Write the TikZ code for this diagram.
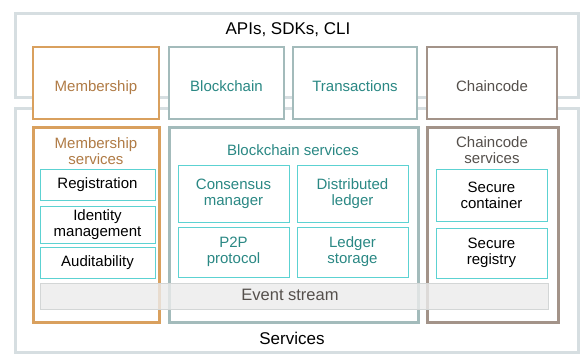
\documentclass[tikz,border=0pt]{standalone}
\usepackage{fontspec}
\setmainfont{Liberation Sans}
\usetikzlibrary{positioning}
\definecolor{framec}{HTML}{D6DEE1}
\definecolor{memc}{HTML}{D9A05E}
\definecolor{memtext}{HTML}{B07B45}
\definecolor{bcc}{HTML}{A3BBBB}
\definecolor{bctext}{HTML}{2A8884}
\definecolor{ccc}{HTML}{A39389}
\definecolor{cctext}{HTML}{55504C}
\definecolor{innerc}{HTML}{5CD2D2}
\definecolor{evc}{HTML}{D3D6D6}

\begin{document}
\begin{tikzpicture}[x=1pt,y=-1pt,
  every node/.style={inner sep=0pt,outer sep=0pt,align=center},
  frame/.style={draw=framec,line width=3pt,fill=white},
  topbox/.style={fill=white,line width=2pt,text height=16pt,text depth=0pt,font=\fontsize{15}{16}\selectfont},
  servbox/.style={fill=white,line width=3pt},
  inbox/.style={draw=innerc,line width=1pt,fill=white,font=\fontsize{15}{16}\selectfont},
  servtext/.style={font=\fontsize{15}{16}\selectfont},
  bigtext/.style={font=\fontsize{17}{19}\selectfont}]
\useasboundingbox (0,0) rectangle (582,354);

% outer layers
\node[frame,minimum width=563pt,minimum height=84pt] (apis) at (296.5,55) {};
\node[frame,minimum width=563pt,minimum height=244pt] (services) at (296.5,230) {};
\node[bigtext] (apistext) at (288,30) {APIs, SDKs, CLI};
\node[bigtext] (servtitle) at (292,338) {Services};

% top row
\node[topbox,draw=memc,text=memtext,minimum width=126pt,minimum height=72pt] (membership) at (96,83) {Membership};
\node[topbox,draw=bcc,text=bctext,minimum width=115pt,minimum height=72pt] (blockchain) at (226.5,83) {Blockchain};
\node[topbox,draw=bcc,text=bctext,minimum width=124pt,minimum height=72pt] (transactions) at (355,83) {Transactions};
\node[topbox,draw=ccc,text=cctext,minimum width=130pt,minimum height=72pt] (chaincode) at (492,83) {Chaincode};

% service groups
\node[servbox,draw=memc,minimum width=126pt,minimum height=195pt] (memserv) at (96,224.5) {};
\node[servbox,draw=bcc,minimum width=249pt,minimum height=195pt] (bcserv) at (293.5,224.5) {};
\node[servbox,draw=ccc,minimum width=131pt,minimum height=195pt] (ccserv) at (492.5,224.5) {};
\node[servtext,text=memtext] (memservtext) at (96,151) {Membership\\services};
\node[servtext,text=bctext] (bcservtext) at (293,150) {Blockchain services};
\node[servtext,text=cctext] (ccservtext) at (492,150) {Chaincode\\services};

% membership services
\node[inbox,minimum width=115pt,minimum height=31pt] (registration) at (97.5,184.5) {Registration};
\node[inbox,minimum width=115pt,minimum height=37pt] (identity) at (97.5,224.5) {Identity\\management};
\node[inbox,minimum width=115pt,minimum height=31pt] (audit) at (97.5,262.5) {Auditability};

% blockchain services
\node[inbox,text=bctext,minimum width=111pt,minimum height=57pt] (consensus) at (233.5,193.5) {Consensus\\manager};
\node[inbox,text=bctext,minimum width=111pt,minimum height=50pt] (p2p) at (233.5,252) {P2P\\protocol};
\node[inbox,text=bctext,minimum width=111pt,minimum height=57pt] (distributed) at (352.5,193.5) {Distributed\\ledger};
\node[inbox,text=bctext,minimum width=111pt,minimum height=50pt] (storage) at (352.5,252) {Ledger\\storage};

% chaincode services
\node[inbox,minimum width=111pt,minimum height=52pt] (container) at (491.5,195) {Secure\\container};
\node[inbox,minimum width=111pt,minimum height=50pt] (registry) at (491.5,253) {Secure\\registry};

% event stream across all groups
\node[draw=evc,line width=1pt,fill=gray!15,fill opacity=0.8,minimum width=508pt,minimum height=26pt] (events) at (294,296) {};
\node[text=cctext,font=\fontsize{16.5}{18}\selectfont] (eventstext) at (290,295) {Event stream};
\end{tikzpicture}
\end{document}
